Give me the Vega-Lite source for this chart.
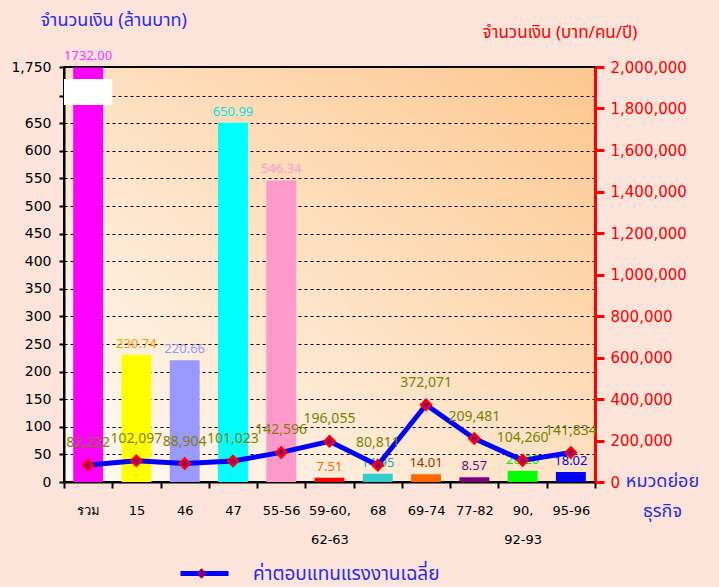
{
  "$schema": "https://vega.github.io/schema/vega-lite/v6.json",
  "width": 531,
  "height": 415,
  "autosize": {"type": "none"},
  "padding": {"left": 64, "top": 67, "right": 124, "bottom": 105},
  "background": "#FCE4DA",
  "config": {
    "font": "Tahoma, 'Noto Sans Thai', 'DejaVu Sans', sans-serif",
    "view": {
      "stroke": "#000000",
      "strokeWidth": 2,
      "fill": {
        "gradient": "linear",
        "x1": 0, "y1": 1, "x2": 1, "y2": 0,
        "stops": [
          {"offset": 0, "color": "#FFFBF7"},
          {"offset": 1, "color": "#FDC78E"}
        ]
      }
    }
  },
  "data": {
    "values": [
      {"i": 0, "cat": "รวม", "amount": 1732.00, "wage": 82222},
      {"i": 1, "cat": "15", "amount": 230.74, "wage": 102097},
      {"i": 2, "cat": "46", "amount": 220.66, "wage": 88904},
      {"i": 3, "cat": "47", "amount": 650.99, "wage": 101023},
      {"i": 4, "cat": "55-56", "amount": 546.34, "wage": 142596},
      {"i": 5, "cat": "59-60, 62-63", "amount": 7.51, "wage": 196055},
      {"i": 6, "cat": "68", "amount": 14.95, "wage": 80811},
      {"i": 7, "cat": "69-74", "amount": 14.01, "wage": 372071},
      {"i": 8, "cat": "77-82", "amount": 8.57, "wage": 209481},
      {"i": 9, "cat": "90, 92-93", "amount": 20.20, "wage": 104260},
      {"i": 10, "cat": "95-96", "amount": 18.02, "wage": 141834}
    ]
  },
  "layer": [
    {
      "layer": [
        {
          "mark": {"type": "bar", "width": {"band": 0.62}},
          "encoding": {
            "x": {
              "field": "cat", "type": "nominal", "sort": null,
              "scale": {
                "domain": ["รวม", "15", "46", "47", "55-56", "59-60, 62-63", "68", "69-74", "77-82", "90, 92-93", "95-96"],
                "paddingInner": 0, "paddingOuter": 0
              },
              "axis": {
                "title": ["หมวดย่อย", "ธุรกิจ"],
                "tickBand": "extent",
                "labelAngle": 0,
                "labelExpr": "split(datum.label, ' ')",
                "labelLineHeight": 29,
                "labelFont": "DejaVu Sans",
                "labelFontSize": 13,
                "labelColor": "#000000",
                "labelPadding": 16,
                "tickSize": 6,
                "tickWidth": 2,
                "tickColor": "#000000",
                "domainColor": "#000000",
                "domainWidth": 2,
                "grid": false,
                "titleAngle": 0,
                "titleX": 598,
                "titleY": -10,
                "titleAlign": "center",
                "titleBaseline": "top",
                "titleFontSize": 18,
                "titleColor": "#2B2BF0",
                "titleFontWeight": "normal",
                "titleLineHeight": 30
              }
            },
            "y": {
              "field": "amount", "type": "quantitative",
              "scale": {"domain": [0, 700, 1750], "range": [415, 28.7, 0], "nice": false, "zero": false},
              "axis": {
                "values": [0, 50, 100, 150, 200, 250, 300, 350, 400, 450, 500, 550, 600, 650, 700, 1750],
                "tickCount": 100,
                "format": ",.0f",
                "labelExpr": "datum.value == 700 ? '' : datum.label",
                "labelOverlap": false,
                "grid": true,
                "gridDash": [3, 3],
                "gridColor": "#000000",
                "gridWidth": 1,
                "tickSize": 5,
                "tickWidth": 2,
                "tickColor": "#000000",
                "domainColor": "#000000",
                "domainWidth": 2,
                "labelFont": "DejaVu Sans",
                "labelFontSize": 14,
                "labelColor": "#000000",
                "labelPadding": 8,
                "title": "จำนวนเงิน (ล้านบาท)",
                "titleAngle": 0,
                "titleX": -24,
                "titleY": -47,
                "titleAlign": "left",
                "titleBaseline": "middle",
                "titleFontSize": 18,
                "titleColor": "#2B2BF0",
                "titleFontWeight": "normal"
              }
            },
            "color": {
              "field": "cat", "type": "nominal",
              "scale": {
                "domain": ["รวม", "15", "46", "47", "55-56", "59-60, 62-63", "68", "69-74", "77-82", "90, 92-93", "95-96"],
                "range": ["#FF00FF", "#FFFF00", "#9999FF", "#00FFFF", "#FF99CC", "#FF0000", "#33CCCC", "#FF6600", "#800080", "#00FF00", "#0000FF"]
              },
              "legend": null
            }
          }
        },
        {
          "data": {"values": [{"cat": "รวม", "lo": 683, "hi": 1310}]},
          "mark": {"type": "rect", "fill": "#FFFFFF"},
          "encoding": {
            "x": {"field": "cat", "type": "nominal", "sort": null},
            "y": {"field": "lo", "type": "quantitative"},
            "y2": {"field": "hi"}
          }
        },
        {
          "mark": {"type": "text", "dy": -11, "fontSize": 13},
          "encoding": {
            "x": {"field": "cat", "type": "nominal", "sort": null},
            "y": {"field": "amount", "type": "quantitative"},
            "text": {"field": "amount", "type": "quantitative", "format": ".2f"},
            "fill": {
              "field": "cat", "type": "nominal",
              "scale": {
                "domain": ["รวม", "15", "46", "47", "55-56", "59-60, 62-63", "68", "69-74", "77-82", "90, 92-93", "95-96"],
                "range": ["#FF33FF", "#FF9900", "#9999FF", "#00E5E5", "#FF99CC", "#FF6600", "#2AA5A5", "#993300", "#800080", "#00EE00", "#0000FF"]
              },
              "legend": null
            }
          }
        }
      ]
    },
    {
      "layer": [
        {
          "mark": {"type": "line", "strokeWidth": 5},
          "encoding": {
            "x": {"field": "cat", "type": "nominal", "sort": null},
            "y": {
              "field": "wage", "type": "quantitative",
              "scale": {"domain": [0, 2000000], "nice": false},
              "axis": {
                "orient": "right",
                "values": [0, 200000, 400000, 600000, 800000, 1000000, 1200000, 1400000, 1600000, 1800000, 2000000],
                "tickCount": 100,
                "format": ",.0f",
                "labelOverlap": false,
                "grid": false,
                "domainColor": "#FF0000",
                "domainWidth": 3,
                "tickColor": "#FF0000",
                "tickWidth": 3,
                "tickSize": 9,
                "labelFont": "DejaVu Sans",
                "labelColor": "#FF0000",
                "labelFontSize": 15,
                "labelPadding": 6,
                "title": "จำนวนเงิน (บาท/คน/ปี)",
                "titleAngle": 0,
                "titleX": -113,
                "titleY": -35,
                "titleAlign": "left",
                "titleBaseline": "middle",
                "titleColor": "#FF0000",
                "titleFontSize": 17,
                "titleFontWeight": "normal"
              }
            },
            "order": {"field": "i", "type": "quantitative"},
            "stroke": {
              "datum": "ค่าตอบแทนแรงงานเฉลี่ย",
              "scale": {"range": ["#0000FF"]},
              "legend": {
                "orient": "none",
                "legendX": 114,
                "legendY": 480,
                "title": null,
                "symbolType": "stroke",
                "symbolSize": 2304,
                "symbolStrokeWidth": 5,
                "symbolStrokeColor": "#0000FF",
                "labelFontSize": 19,
                "labelColor": "#2B2BF0",
                "labelOffset": 22,
                "labelLimit": 400,
                "padding": 0
              }
            }
          }
        },
        {
          "mark": {"type": "point", "shape": "diamond", "filled": true, "fill": "#800080", "stroke": "#FF0000", "strokeWidth": 2.5, "size": 100, "opacity": 1},
          "encoding": {
            "x": {"field": "cat", "type": "nominal", "sort": null},
            "y": {"field": "wage", "type": "quantitative"},
            "shape": {
              "datum": "marker",
              "scale": {"range": ["diamond"]},
              "legend": {
                "orient": "none",
                "legendX": 131,
                "legendY": 500,
                "title": null,
                "symbolSize": 110,
                "symbolFillColor": "#800080",
                "symbolStrokeColor": "#FF0000",
                "symbolStrokeWidth": 2.5,
                "labelExpr": "''",
                "padding": 0
              }
            }
          }
        },
        {
          "mark": {"type": "text", "dy": -22, "fontSize": 14, "color": "#808000"},
          "encoding": {
            "x": {"field": "cat", "type": "nominal", "sort": null},
            "y": {"field": "wage", "type": "quantitative"},
            "text": {"field": "wage", "type": "quantitative", "format": ","}
          }
        }
      ]
    }
  ],
  "resolve": {"scale": {"y": "independent"}}
}
